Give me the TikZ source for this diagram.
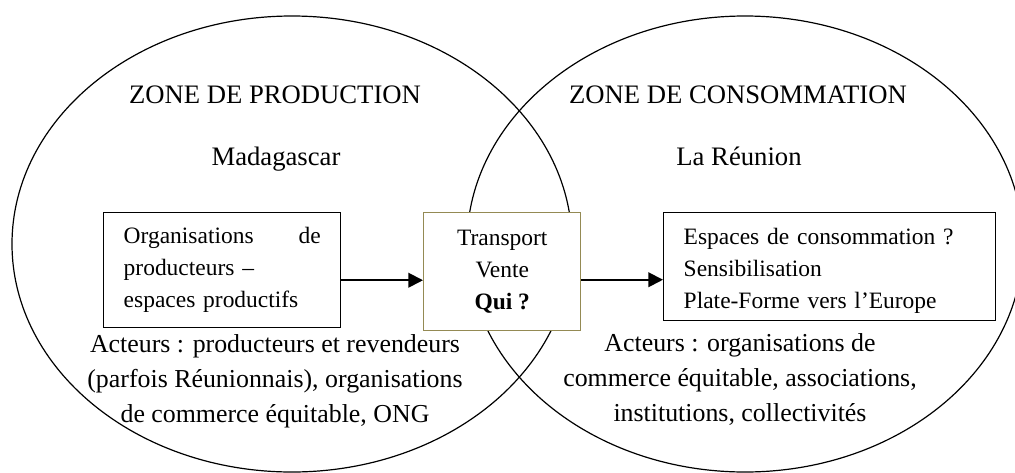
\documentclass[tikz,border=0pt]{standalone}
\usepackage{fontspec}
\setmainfont{Liberation Serif}
\usetikzlibrary{arrows.meta,positioning,calc}
\definecolor{zoneink}{RGB}{0,0,0}
\definecolor{transolive}{RGB}{148,138,84}
\newcommand{\zonefont}{\fontsize{20}{26.6}\selectfont}
\newcommand{\actorfont}{\fontsize{19.4}{26.25}\selectfont}
\newcommand{\boxfont}{\fontsize{17.6}{24}\selectfont}
\tikzset{
  zone/.style={draw=zoneink, line width=0.9pt},
  box/.style={draw=zoneink, line width=1.1pt, fill=white, anchor=north west,
    inner sep=0pt, font=\boxfont},
  title/.style={font=\zonefont, anchor=base, inner sep=0pt},
  actors/.style={font=\actorfont, align=center, inner sep=0pt},
  arrow/.style={-{Triangle[length=11pt, width=11pt]}, line width=1.4pt},
}

\begin{document}
\begin{tikzpicture}[x=0.75pt, y=-0.75pt]
  \useasboundingbox (0,0) rectangle (1015,472);

  \draw[zone] (292,244) ellipse [x radius=210pt, y radius=171pt];
  \draw[zone] (745,244) ellipse [x radius=208.5pt, y radius=171pt];

  \node[title] (prodzone) at (275,103) {ZONE DE PRODUCTION};
  \node[title] (prodplace) at (276,165) {Madagascar};
  \node[title] (conszone) at (738,103) {ZONE DE CONSOMMATION};
  \node[title] (consplace) at (739,165) {La Réunion};

  \node[box, minimum width=177.75pt, minimum height=86.25pt, text width=147.75pt,
    align=left] (prodbox) at (103,212)
    {Organisations\hfill de\\producteurs –\\espaces productifs};
  \node[box, draw=transolive, minimum width=117.75pt, minimum height=88.5pt,
    align=center] (transbox) at (423,212)
    {Transport\\Vente\\\textbf{Qui ?}};
  \node[box, minimum width=249pt, minimum height=81pt, text width=219pt,
    align=left] (consbox) at (663,212)
    {\rule{0pt}{19pt}Espaces de consommation ?\\Sensibilisation\\Plate-Forme vers l’Europe};

  \draw[arrow] ([yshift=-7.5pt]prodbox.east) -- ([yshift=-7.5pt]prodbox.east -| transbox.west);
  \draw[arrow] ([yshift=-6pt]transbox.east) -- ([yshift=-6pt]transbox.east -| consbox.west);

  \node[actors] (prodactors) at (275,381)
    {Acteurs : producteurs et revendeurs\\(parfois Réunionnais), organisations\\de commerce équitable, ONG};
  \node[actors] (consactors) at (740,380)
    {Acteurs : organisations de\\commerce équitable, associations,\\institutions, collectivités};
\end{tikzpicture}
\end{document}
